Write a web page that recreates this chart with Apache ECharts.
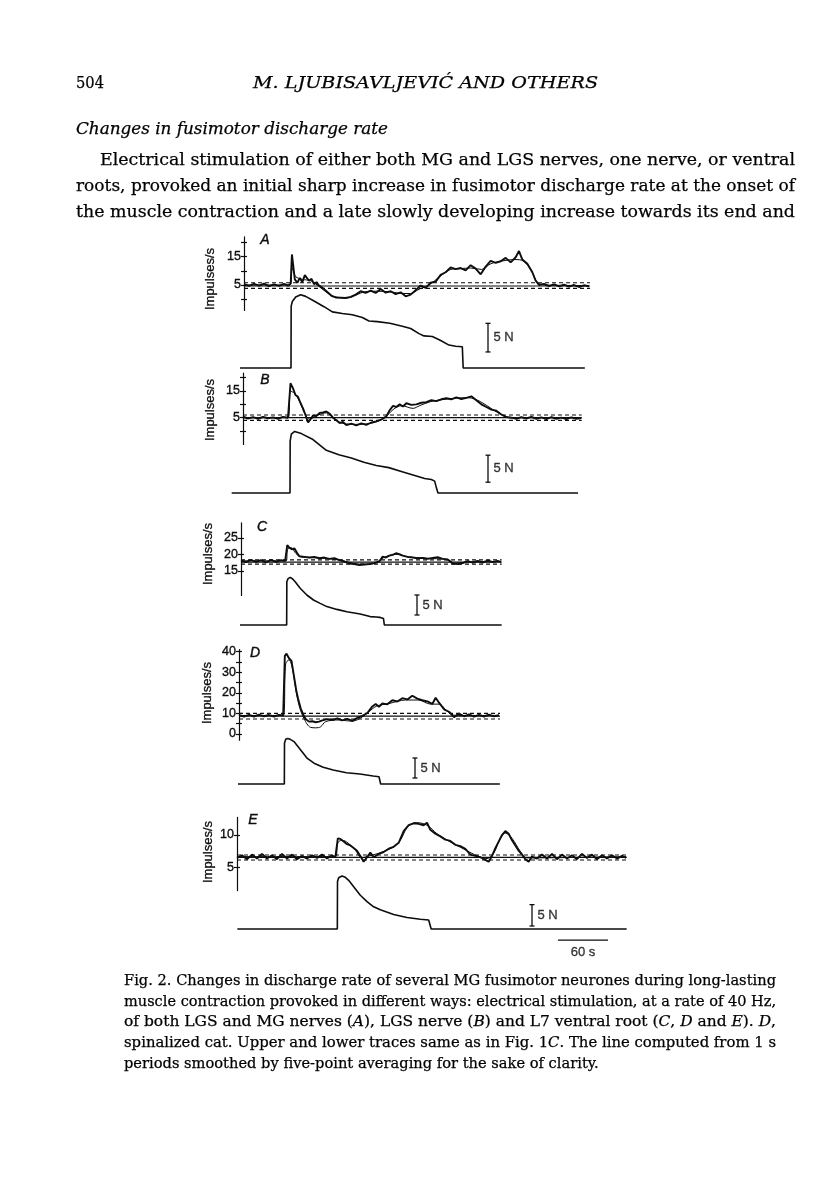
<!DOCTYPE html>
<html>
<head>
<meta charset="utf-8">
<script src="https://cdn.jsdelivr.net/npm/echarts@6/dist/echarts.min.js"></script>
<style>html,body{margin:0;padding:0;background:#fff}#c{width:816px;height:1203px}</style>
</head>
<body>
<div id="c"></div>
<script>
// ---------------- DATA (time in s, rate in impulses/s, force in N) ----------------
const rateA = [[0,5.3],[6,4.7],[12,5.4],[18,4.8],[24,5.5],[30,4.6],[36,5.2],[42,4.7],[48,5.4],[53,4.8],[56,5.5],[57.5,15.8],[59,12],[61,7],[64,5.8],[67,7.5],[70,6],[73,8.5],[75,9.2],[78,6.5],[81,7.2],[84,5.3],[87,6],[90,4.8],[95,3.8],[100,2.5],[105,1.2],[110,0.6],[116,0.5],[122,0.4],[128,0.8],[134,1.6],[140,2.8],[146,2.2],[152,3.0],[158,2.2],[164,3.6],[170,2.3],[176,2.8],[182,1.8],[188,2.4],[194,1.0],[200,1.6],[206,3.2],[212,4.8],[218,4.0],[224,5.8],[230,6.2],[236,8.6],[242,9.5],[248,11.2],[254,10.6],[260,11.0],[266,10.2],[272,12.0],[278,10.8],[284,8.8],[290,11.5],[296,13.5],[302,12.8],[308,13.4],[314,14.6],[320,13.0],[326,14.8],[330,17.0],[334,14.0],[340,12.5],[346,9.5],[350,6.5],[354,5.0],[360,5.4],[366,4.6],[372,5.2],[378,4.5],[384,5.1],[390,4.4],[396,5.0],[402,4.3],[408,4.9],[414,4.5]];
const smoothA = [[0,5],[55,5],[58,11],[62,8],[70,7],[80,6.5],[90,4.5],[100,2.2],[110,0.8],[125,0.5],[135,1.5],[145,2.6],[160,2.8],[175,2.6],[190,2],[200,2],[210,3.5],[222,5],[235,8],[248,10.5],[260,10.8],[272,11],[285,10.5],[296,12.5],[310,13.5],[325,14],[335,13.5],[345,10],[352,6],[360,5],[414,4.8]];
const refA = [5.8, 4.65, 3.8];
const forceA = [[-4.8,0],[56.4,0],[56.6,10.8],[58,11.6],[62,12.4],[68,12.8],[74,12.5],[84,11.7],[96,10.7],[106,9.8],[118,9.5],[130,9.3],[142,8.8],[150,8.2],[160,8.1],[175,7.8],[190,7.3],[200,6.9],[210,6.0],[216,5.6],[226,5.5],[236,4.8],[246,4.0],[254,3.8],[262,3.7],[263,0],[409,0]];
const ticksA = [0,5,10,15,20];
const labelsA = [5,15];

const rateB = [[0,5.4],[6,4.7],[12,5.2],[18,4.6],[24,5.3],[30,4.8],[36,5.1],[42,4.6],[48,5.3],[54,5.0],[57,17.9],[60,16],[63,13.5],[66,12.8],[69,10.5],[72,8.5],[75,6.0],[78,3.2],[81,4.4],[84,5.8],[88,5.6],[92,6.8],[96,7.0],[100,7.3],[104,6.5],[108,5.0],[112,4.0],[116,3.0],[120,3.4],[124,2.2],[130,2.8],[136,2.1],[142,2.9],[148,2.3],[154,3.2],[160,3.6],[166,4.3],[172,5.5],[176,7.8],[180,9.4],[184,9.0],[188,10.0],[192,9.2],[196,10.4],[202,9.8],[208,10.0],[214,10.6],[220,10.8],[226,11.6],[232,11.2],[238,11.9],[244,12.3],[250,11.9],[256,12.6],[262,12.0],[268,12.4],[274,13.0],[280,11.5],[286,10.0],[292,9.0],[298,8.0],[304,7.6],[310,6.2],[316,5.2],[322,5.0],[328,4.6],[334,5.2],[340,4.7],[346,5.3],[352,4.6],[358,5.1],[364,4.5],[370,5.2],[376,4.6],[382,5.0],[388,4.5],[394,5.1],[400,4.6],[406,4.9]];
const smoothB = [[0,5],[54,5],[57,15],[62,14],[68,11],[75,6],[80,4.5],[90,6],[100,6.8],[108,5],[118,3],[135,2.5],[155,3],[170,5],[180,8],[190,9.5],[204,8.5],[212,9.5],[225,11],[245,12],[270,12.5],[285,11],[300,8],[315,5.5],[330,5],[406,5]];
const refB = [6.0, 5.0, 4.0];
const forceB = [[-13.6,0],[56.4,0],[56.6,9.6],[58,10.9],[62,11.4],[70,11.0],[84,9.9],[100,7.9],[115,7.1],[130,6.5],[145,5.7],[160,5.1],[175,4.7],[190,4.0],[205,3.3],[218,2.7],[226,2.5],[230,2.2],[232,1.0],[234,0],[402,0]];
const ticksB = [0,5,10,15,20];
const labelsB = [5,15];

const rateC = [[0,18.1],[6,17.6],[12,18.3],[18,17.7],[24,18.2],[30,17.5],[36,18.3],[42,17.7],[48,18.2],[53,18.0],[55.5,22.8],[58,22.0],[61,21.5],[64,21.8],[67,20.5],[70,19.4],[76,19.2],[82,19.0],[88,19.2],[94,18.8],[100,19.0],[106,18.6],[112,18.8],[118,18.2],[124,17.8],[130,17.2],[136,17.0],[142,16.7],[148,16.9],[154,17.0],[160,17.3],[166,17.8],[170,19.3],[174,19.0],[178,19.6],[182,19.8],[186,20.3],[190,20.0],[194,19.6],[200,19.2],[206,19.0],[212,18.8],[218,18.9],[224,18.6],[230,18.9],[236,19.1],[242,18.6],[248,18.4],[254,17.2],[260,17.0],[266,17.3],[272,17.9],[278,17.5],[284,18.0],[290,17.5],[296,18.1],[302,17.6],[308,18.0],[312,17.6]];
const smoothC = [[0,18],[54,18],[56,21.5],[60,22],[66,20.2],[72,19.2],[100,18.8],[120,18.2],[135,17.2],[150,17],[162,17.4],[168,18.5],[175,19.4],[188,20],[200,19.2],[230,18.7],[248,18.4],[256,17.3],[270,17.6],[312,17.8]];
const refC = [18.3, 17.6, 17.0];
const forceC = [[-1.2,0],[54.8,0],[55,10.8],[56.5,11.6],[59,11.9],[62,11.5],[65,10.8],[71,9.2],[79,7.5],[87,6.25],[95,5.4],[103,4.6],[115,3.9],[127,3.3],[143,2.75],[155,2.1],[162,2.0],[167,1.9],[171,1.6],[172,0],[312.8,0]];
const ticksC = [15,20,25];
const labelsC = [15,20,25];

const rateD = [[0,9.2],[6,8.4],[12,9.3],[18,8.5],[24,9.4],[30,8.6],[36,9.2],[42,8.5],[48,9.3],[53,9.0],[55,38],[57,39.0],[60,36.8],[63,35.5],[66,28],[69,20.5],[71,17.0],[74,12.5],[77,9.5],[80,7.3],[84,6.0],[88,6.2],[92,5.7],[96,6.0],[100,6.6],[106,7.2],[112,6.8],[118,7.6],[124,6.6],[130,7.3],[136,6.4],[142,7.8],[148,8.8],[154,10.2],[160,13.4],[164,14.6],[168,13.2],[172,14.8],[178,14.4],[184,16.4],[190,15.8],[196,17.4],[202,16.8],[208,18.6],[214,17.2],[220,16.4],[226,15.8],[232,14.6],[236,17.6],[240,15.2],[246,12.0],[252,10.8],[258,8.2],[264,9.9],[270,8.6],[276,9.5],[282,8.4],[288,9.3],[294,8.5],[300,9.4],[306,8.6],[312,9.1]];
const smoothD = [[0,9],[53,9],[56,34],[60,36],[64,32],[68,22],[72,14],[78,7.5],[86,3.2],[92,3.0],[98,3.5],[104,6],[120,6.8],[135,6.2],[145,7.5],[155,10.5],[165,13.5],[180,14.8],[200,16.5],[215,16.5],[230,14.5],[240,14.5],[250,11],[260,9],[312,9]];
const refD = [10.0, 8.7, 7.3];
const forceD = [[-1.2,0],[54.4,0],[54.6,10.2],[56,11.2],[58.5,11.4],[62,11.1],[66,10.6],[74,8.5],[82,6.4],[90,5.2],[101,4.2],[113,3.5],[129,2.8],[145,2.5],[161,2.0],[168,1.8],[170,0],[313,0]];
const ticksD = [0,5,10,15,20,25,30,35,40];
const labelsD = [0,10,20,30,40];

const rateE = [[0,6.5],[6,6.9],[12,6.3],[18,7.0],[24,6.4],[30,7.1],[36,6.4],[42,6.9],[48,6.3],[54,7.1],[60,6.4],[66,7.0],[72,6.3],[78,6.8],[84,6.4],[90,6.9],[96,6.5],[102,7.0],[108,6.4],[114,6.9],[118,6.6],[121,9.5],[124,9.4],[128,9.0],[132,8.6],[136,8.4],[140,8.0],[144,7.6],[148,6.8],[152,5.9],[156,6.6],[160,7.3],[164,6.6],[170,7.1],[176,7.4],[182,7.9],[188,8.2],[194,8.8],[200,10.6],[206,11.5],[212,11.8],[218,11.7],[224,11.5],[228,11.9],[232,10.8],[238,10.2],[244,9.8],[250,9.3],[256,9.1],[262,8.5],[268,8.3],[274,7.9],[280,7.0],[286,6.8],[292,6.6],[298,6.2],[302,5.9],[306,6.8],[310,8.0],[314,9.0],[318,10.0],[322,10.6],[326,10.2],[330,9.2],[334,8.4],[338,7.6],[342,7.0],[346,6.3],[350,5.9],[354,6.7],[360,6.4],[366,7.0],[372,6.4],[378,7.1],[384,6.3],[390,7.0],[396,6.4],[402,6.9],[408,6.3],[414,7.1],[420,6.5],[426,7.0],[432,6.3],[438,6.9],[444,6.4],[450,6.9],[456,6.4],[462,6.8],[467,6.5]];
const smoothE = [[0,6.7],[118,6.7],[121,8.8],[126,9.2],[140,8],[150,6.5],[158,6.8],[170,7.2],[185,8],[195,9],[205,11.3],[215,11.9],[228,11.5],[240,10.2],[255,9],[270,8],[285,7],[300,6.4],[308,7.2],[315,9.2],[322,10.3],[330,9.5],[340,7.5],[348,6.5],[467,6.7]];
const refE = [6.94, 6.58, 6.17];
const forceE = [[0.4,0],[120.4,0],[120.6,11.1],[122,12.0],[126,12.4],[130,12.1],[134,11.4],[140,9.9],[148,7.9],[156,6.4],[164,5.2],[172,4.5],[188,3.4],[204,2.7],[220,2.3],[230,2.1],[232,1.9],[233,0],[467.6,0]];
const ticksE = [5,10];
const labelsE = [5,10];

const SCALE_N = 5;     // force calibration bar (N)
const SCALE_S = 60;    // time calibration bar (s)

// ---------------- LAYOUT (pixels) ----------------
const SEC_PER_PX = 1.2;
const INK = '#0d0d0d';
const layoutA = {axisX:244, rateTop:236.9, ppu:2.83, yMin:-4, yMax:22, tEnd:415.2, fBase:368, ppn:5.73, fMin:-1, fMax:14, fStart:-4.8, fEnd:409, barT:292.8, barY:2.8, letter:[265,240], yName:[210,279]};
const layoutB = {axisX:243, rateTop:373.1, ppu:2.67, yMin:-5, yMax:21.7, tEnd:406.4, fBase:493, ppn:5.4, fMin:-1, fMax:13, fStart:-13.6, fEnd:402.4, barT:294, barY:2.0, letter:[265,380], yName:[210,410]};
const layoutC = {axisX:241, rateTop:522.9, ppu:3.3, yMin:7.5, yMax:29.5, tEnd:312.8, fBase:625, ppn:4, fMin:-1, fMax:13, fStart:-1.2, fEnd:312.8, barT:211.2, barY:2.5, letter:[262,527], yName:[208,554]};
const layoutD = {axisX:239, rateTop:649.6, ppu:2.058, yMin:-3, yMax:41, tEnd:313.2, fBase:784, ppn:4, fMin:-1, fMax:13, fStart:-1.2, fEnd:313, barT:211.2, barY:1.5, letter:[255,653], yName:[207,693]};
const layoutE = {axisX:237, rateTop:817.4, ppu:6.53, yMin:1.5, yMax:12.7, tEnd:467.6, fBase:929, ppn:4.27, fMin:-3, fMax:13, fStart:0.4, fEnd:467.6, barT:354, barY:0.7, letter:[253,820], yName:[208,852], timeBar:{t:385.2, y:-2.6}};

const panels = [
  {name:'A', rate:rateA, smooth:smoothA, ref:refA, force:forceA, ticks:ticksA, labels:labelsA, L:layoutA},
  {name:'B', rate:rateB, smooth:smoothB, ref:refB, force:forceB, ticks:ticksB, labels:labelsB, L:layoutB},
  {name:'C', rate:rateC, smooth:smoothC, ref:refC, force:forceC, ticks:ticksC, labels:labelsC, L:layoutC},
  {name:'D', rate:rateD, smooth:smoothD, ref:refD, force:forceD, ticks:ticksD, labels:labelsD, L:layoutD},
  {name:'E', rate:rateE, smooth:smoothE, ref:refE, force:forceE, ticks:ticksE, labels:labelsE, L:layoutE}
];

const SANS = '"Liberation Sans", Arial, sans-serif';
const SERIF = '"DejaVu Serif", serif';
const labelFont = {fontFamily:SANS, fontSize:13, color:INK, textBorderColor:INK, textBorderWidth:0.35};

const grid = [], xAxis = [], yAxis = [], series = [], graphic = [];

panels.forEach(function (p) {
  const L = p.L;
  const g0 = grid.length;
  const rateRect = {left: L.axisX, top: L.rateTop, width: L.tEnd / SEC_PER_PX, height: (L.yMax - L.yMin) * L.ppu};
  const forceRect = {left: L.axisX + L.fStart / SEC_PER_PX, top: L.fBase - L.fMax * L.ppn,
                     width: (L.fEnd - L.fStart) / SEC_PER_PX, height: (L.fMax - L.fMin) * L.ppn};
  [rateRect, rateRect, forceRect].forEach(function (r) {
    grid.push(Object.assign({containLabel:false, outerBoundsMode:'none', show:false}, r));
  });
  xAxis.push({gridIndex:g0, type:'value', min:0, max:L.tEnd, show:false});
  xAxis.push({gridIndex:g0+1, type:'value', min:0, max:L.tEnd, show:false});
  xAxis.push({gridIndex:g0+2, type:'value', min:L.fStart, max:L.fEnd, show:false});
  yAxis.push({gridIndex:g0, type:'value', min:L.yMin, max:L.yMax, position:'left',
    axisLine:{show:true, lineStyle:{color:INK, width:1.2}},
    axisTick:{show:true, length:3, inside:false, customValues:p.ticks, lineStyle:{color:INK, width:1.2}},
    axisLabel:Object.assign({show:true, customValues:p.labels, margin:3}, labelFont, {fontSize:12.5}),
    splitLine:{show:false}});
  yAxis.push({gridIndex:g0+1, type:'value', min:L.yMin, max:L.yMax, position:'left',
    axisLine:{show:false},
    axisTick:{show:true, length:3, inside:true, customValues:p.ticks, lineStyle:{color:INK, width:1.2}},
    axisLabel:{show:false}, splitLine:{show:false}});
  yAxis.push({gridIndex:g0+2, type:'value', min:L.fMin, max:L.fMax, show:false});

  const line = function (data, width, extra) {
    return Object.assign({type:'line', xAxisIndex:g0, yAxisIndex:g0, data:data, showSymbol:false, symbol:'none',
      silent:true, animation:false, lineStyle:{color:INK, width:width}}, extra || {});
  };
  p.ref.forEach(function (v, k) {
    series.push(line([[0, v], [L.tEnd, v]], 1,
      {lineStyle:{color:INK, width:k === 1 ? 1.2 : 1.1, type:k === 1 ? 'solid' : [4, 3]}}));
  });
  series.push(line(p.smooth, 1.0, {smooth:0.35}));
  series.push(line(p.rate, 1.9));
  series.push({type:'line', xAxisIndex:g0+2, yAxisIndex:g0+2, data:p.force, showSymbol:false, symbol:'none',
    silent:true, animation:false, lineStyle:{color:INK, width:1.6}});
  series.push({type:'line', xAxisIndex:g0+2, yAxisIndex:g0+2, clip:false, animation:false, silent:true,
    data:[[L.barT, L.barY], [L.barT, L.barY + SCALE_N]],
    symbol:'rect', symbolSize:[5, 1.3], showSymbol:true, itemStyle:{color:INK},
    lineStyle:{color:INK, width:1.3}});
  series.push({type:'scatter', xAxisIndex:g0+2, yAxisIndex:g0+2, clip:false, animation:false, silent:true,
    data:[[L.barT, L.barY + SCALE_N / 2]], symbolSize:1, itemStyle:{color:'rgba(0,0,0,0)'},
    label:Object.assign({show:true, position:'right', distance:5, formatter:SCALE_N + ' N'}, labelFont)});
  if (L.timeBar) {
    series.push({type:'line', xAxisIndex:g0+2, yAxisIndex:g0+2, clip:false, animation:false, silent:true,
      data:[[L.timeBar.t, L.timeBar.y], [L.timeBar.t + SCALE_S, L.timeBar.y]],
      showSymbol:false, symbol:'none', lineStyle:{color:INK, width:1.4}});
    series.push({type:'scatter', xAxisIndex:g0+2, yAxisIndex:g0+2, clip:false, animation:false, silent:true,
      data:[[L.timeBar.t + SCALE_S / 2, L.timeBar.y]], symbolSize:1, itemStyle:{color:'rgba(0,0,0,0)'},
      label:Object.assign({show:true, position:'bottom', distance:5, formatter:SCALE_S + ' s'}, labelFont)});
  }
  graphic.push({type:'text', x:L.letter[0], y:L.letter[1], silent:true,
    style:{text:p.name, font:'italic 14px ' + SANS, fill:INK, stroke:INK, lineWidth:0.4, align:'center', verticalAlign:'middle'}});
  graphic.push({type:'text', x:L.yName[0], y:L.yName[1], rotation:Math.PI / 2, silent:true,
    style:{text:'Impulses/s', font:'13px ' + SANS, fill:INK, stroke:INK, lineWidth:0.3, align:'center', verticalAlign:'middle'}});
});

// ---------------- PAGE TEXT ----------------
const measureCtx = document.createElement('canvas').getContext('2d');
function fontOf(seg, size, family, baseItalic) {
  return ((seg.i || baseItalic) ? 'italic ' : '') + size + 'px ' + family;
}
// segs: strings or {t, i}; x0..x1 = justified extent; ymid = vertical middle of the line
function textLine(segs, x0, x1, ymid, size, family, opts) {
  opts = opts || {};
  segs = segs.map(function (s) { return typeof s === 'string' ? {t:s} : s; });
  const widths = segs.map(function (s) { measureCtx.font = fontOf(s, size, family, opts.italic); return measureCtx.measureText(s.t).width; });
  const total = widths.reduce(function (a, b) { return a + b; }, 0);
  const sx = opts.scale != null ? opts.scale : (x1 != null ? (x1 - x0) / total : 1);
  let cx = 0;
  const children = segs.map(function (s, k) {
    const el = {type:'text', x:cx, y:0, silent:true,
      style:{text:s.t, font:fontOf(s, size, family, opts.italic), fill:'#000', stroke:'#000', lineWidth:0.25,
             align:'left', verticalAlign:'middle'}};
    cx += widths[k];
    return el;
  });
  return {el:{type:'group', x:x0, y:ymid, scaleX:sx, children:children}, scale:sx};
}

graphic.push(textLine(['504'], 76, 104, 83, 17.5, SERIF).el);
graphic.push(textLine(['M. LJUBISAVLJEVIĆ AND OTHERS'], 253, 598, 83, 17.5, SERIF, {italic:true}).el);
graphic.push(textLine(['Changes in fusimotor discharge rate'], 76, 388, 129.5, 17, SERIF, {italic:true}).el);

const PARA = [
  'Electrical stimulation of either both MG and LGS nerves, one nerve, or ventral',
  'roots, provoked an initial sharp increase in fusimotor discharge rate at the onset of',
  'the muscle contraction and a late slowly developing increase towards its end and'
];
const paraMid = [160, 186, 212];
graphic.push(textLine([PARA[0]], 100, 795, paraMid[0], 17.5, SERIF).el);
graphic.push(textLine([PARA[1]], 76, 795, paraMid[1], 17.5, SERIF).el);
graphic.push(textLine([PARA[2]], 76, 795, paraMid[2], 17.5, SERIF).el);

const CAP = [
  ['Fig. 2. Changes in discharge rate of several MG fusimotor neurones during long-lasting'],
  ['muscle contraction provoked in different ways: electrical stimulation, at a rate of 40 Hz,'],
  ['of both LGS and MG nerves (', {t:'A', i:true}, '), LGS nerve (', {t:'B', i:true}, ') and L7 ventral root (',
   {t:'C', i:true}, ', ', {t:'D', i:true}, ' and ', {t:'E', i:true}, '). ', {t:'D', i:true}, ','],
  ['spinalized cat. Upper and lower traces same as in Fig. 1', {t:'C', i:true}, '. The line computed from 1 s'],
  ['periods smoothed by five-point averaging for the sake of clarity.']
];
const capMid = [981, 1001.7, 1022.4, 1043.1, 1063.8];
let capScale = 1;
CAP.forEach(function (segs, k) {
  const r = k < 4 ? textLine(segs, 124, 776, capMid[k], 15, SERIF) : textLine(segs, 124, null, capMid[k], 15, SERIF, {scale:capScale});
  if (k === 0) capScale = r.scale;
  graphic.push(r.el);
});

const chart = echarts.init(document.getElementById('c'), null, {renderer:'canvas', width:816, height:1203});
chart.setOption({
  animation:false,
  backgroundColor:'#ffffff',
  grid:grid, xAxis:xAxis, yAxis:yAxis, series:series, graphic:graphic
});
</script>
</body>
</html>
